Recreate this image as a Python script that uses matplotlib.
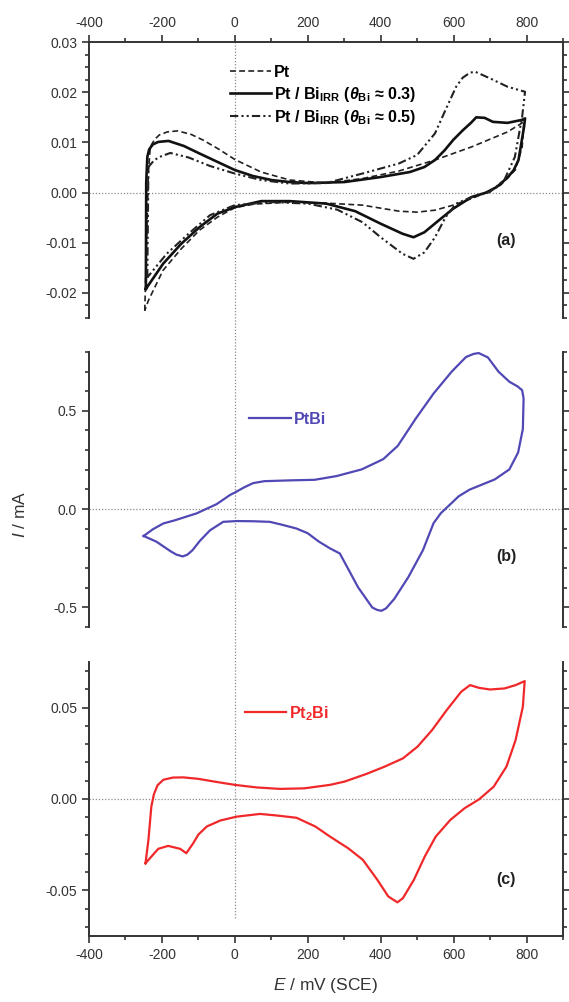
import matplotlib

matplotlib.use("Agg")
import matplotlib.pyplot as plt
import matplotlib.transforms as mtransforms
from matplotlib.lines import Line2D
from matplotlib.ticker import FormatStrFormatter, MultipleLocator

plt.rcParams["font.family"] = ["Liberation Sans", "DejaVu Sans"]
plt.rcParams["axes.unicode_minus"] = False
plt.rcParams["mathtext.fontset"] = "custom"
plt.rcParams["mathtext.rm"] = "Liberation Sans:bold"
plt.rcParams["mathtext.bf"] = "Liberation Sans:bold"
plt.rcParams["mathtext.it"] = "Liberation Sans:italic:bold"
# plain italic (for the axis-label symbols)
plt.rcParams["mathtext.sf"] = "Liberation Sans:italic"

# ---- panel (a): Pt, Pt/Bi_IRR (0.3), Pt/Bi_IRR (0.5) -- E in mV, I in mA
pt_E = [-247, -237, -232, -220, -207, -185, -157, -120, -88, -45, 0, 72, 151, 251, 350,
        450, 549, 649, 748, 793,
        788, 769, 729, 689, 649, 599, 549, 500, 450, 350, 251, 151, 52, 0, -48, -97, -147,
        -197, -237, -247]
pt_I = [-0.0235, 0.004, 0.0091, 0.0106, 0.0115, 0.0121, 0.0123, 0.0116, 0.0105, 0.0087,
        0.0066, 0.0041, 0.0025, 0.0019,
        0.0028, 0.0043, 0.0065, 0.0091, 0.0121, 0.0141,
        0.009, 0.0045, 0.0015, 0.0, -0.0012, -0.0025, -0.0035, -0.0039, -0.0037, -0.0025,
        -0.0021, -0.0019, -0.0023, -0.003, -0.0049, -0.0075, -0.0112, -0.0155, -0.0215, -0.0235]

bi3_E = [-244, -243, -240, -235, -225, -210, -182, -140, -97, -50, 0, 50, 101, 151, 201,
         300, 400, 480, 520, 549, 575, 599, 625, 649, 662, 685, 708, 748, 788, 796,
         793, 785, 778, 765, 748, 718, 689, 649, 599, 560, 520, 490, 460, 400, 330, 251,
         151, 72, 0, -48, -97, -147, -197, -244]
bi3_I = [-0.0192, 0.002, 0.0071, 0.0086, 0.0096, 0.0101, 0.0103, 0.0093, 0.0078, 0.0062,
         0.0045, 0.0033, 0.0025, 0.0021, 0.0019, 0.0021, 0.0031, 0.0041, 0.0051, 0.0065,
         0.0084, 0.0105, 0.0124, 0.0140, 0.0150, 0.0149, 0.0141, 0.0139, 0.0145, 0.0148,
         0.013, 0.0095, 0.0065, 0.0045, 0.003, 0.0011, 0.0, -0.0009, -0.0032, -0.0055,
         -0.0079, -0.0089, -0.0082, -0.0062, -0.0037, -0.0022, -0.0017, -0.0017,
         -0.0029, -0.0042, -0.0069, -0.0102, -0.0142, -0.0192]

bi5_E = [-240, -237, -222, -207, -177, -127, -68, 0, 72, 151, 251, 350, 450, 500, 549, 578,
         607, 625, 645, 659, 699, 748, 796,
         788, 768, 739, 699, 649, 607, 578, 549, 520, 490, 460, 400, 350, 281, 201, 101,
         0, -68, -127, -187, -240]
bi5_I = [-0.0169, 0.0051, 0.0064, 0.0071, 0.0079, 0.007, 0.0053, 0.0038, 0.0025, 0.0018,
         0.0019, 0.0038, 0.0058, 0.0075, 0.0118, 0.0165, 0.0211, 0.0229, 0.0239, 0.0241,
         0.0228, 0.0211, 0.0201,
         0.0151, 0.0071, 0.0025, 0.0001, -0.0009, -0.0022, -0.0049, -0.0089, -0.0119,
         -0.0132, -0.0122, -0.0089, -0.0059, -0.0034, -0.0022, -0.0019,
         -0.0025, -0.0045, -0.0082, -0.0122, -0.0169]

# ---- panel (b): PtBi
ptbi_E = [-250, -225, -196, -166, -105, -50, -13, 0, 25, 50, 81, 150, 219, 279, 348, 407,
          447, 496, 545, 595, 634, 655, 669, 694, 723, 753, 775, 788, 792, 790, 777, 753,
          713, 644, 614, 585, 565, 545, 516, 476, 437, 415, 402, 390, 377, 338, 288, 261,
          230, 200, 169, 130, 96, 50, 5, -32, -68, -95, -116, -130, -143, -160, -176, -215,
          -250]
ptbi_I = [-0.137, -0.103, -0.073, -0.058, -0.022, 0.025, 0.072, 0.084, 0.11, 0.132, 0.142,
          0.146, 0.149, 0.168, 0.202, 0.254, 0.322, 0.46, 0.588, 0.7, 0.774, 0.79, 0.794,
          0.772, 0.7, 0.648, 0.625, 0.605, 0.563, 0.408, 0.288, 0.202, 0.151, 0.099,
          0.065, 0.014, -0.021, -0.072, -0.209, -0.346, -0.458, -0.505, -0.518, -0.513,
          -0.501, -0.398, -0.226, -0.2, -0.165, -0.123, -0.099, -0.08, -0.065, -0.062,
          -0.061, -0.065, -0.108, -0.16, -0.209, -0.232, -0.241, -0.232, -0.215, -0.166,
          -0.137]

# ---- panel (c): Pt2Bi
pt2bi_E = [-245, -237, -229, -222, -212, -196, -170, -141, -100, -50, 0, 60, 124, 190,
           261, 301, 361, 411, 461, 501, 541, 581, 621, 645, 670, 700, 740, 770, 795,
           790, 770, 745, 710, 670, 630, 591, 551, 521, 491, 461, 446, 421, 391, 351, 311,
           261, 221, 169, 112, 69, 5, -40, -77, -100, -114, -133, -150, -183, -210, -245]
pt2bi_I = [-0.0352, -0.0224, -0.0042, 0.0025, 0.0075, 0.0105, 0.0117, 0.0118, 0.011,
           0.0093, 0.0077, 0.0063, 0.0055, 0.0058, 0.0077, 0.0095, 0.0137, 0.0177, 0.0222,
           0.0286, 0.0377, 0.0486, 0.0587, 0.0623, 0.0608, 0.0599, 0.0605, 0.0623, 0.0645,
           0.0505, 0.0322, 0.0177, 0.0067, -0.0002, -0.0051, -0.0115, -0.0206, -0.0315,
           -0.0443, -0.0543, -0.0566, -0.0534, -0.0443, -0.0333, -0.027, -0.0206, -0.0151,
           -0.0103, -0.009, -0.0082, -0.0097, -0.0118, -0.0151, -0.0195, -0.0242, -0.0297,
           -0.0273, -0.0257, -0.0273, -0.0352]

spine_c = "#333333"
zero_c = "#8a8a8a"
blue = "#5048b4"
red = "#f0282a"

fig = plt.figure(figsize=(5.69, 10.02), dpi=100)
ax_a = fig.add_axes([0.1564, 0.6826, 0.833, 0.2754])
ax_b = fig.add_axes([0.1564, 0.3743, 0.833, 0.2745])
ax_c = fig.add_axes([0.1564, 0.0659, 0.833, 0.2735])


def style(ax, show_top, show_bottom, major, minor, fmt):
    ax.set_xlim(-400, 900)
    for side in ("left", "right", "top", "bottom"):
        ax.spines[side].set_color(spine_c)
        ax.spines[side].set_linewidth(1.4)
    ax.spines["top"].set_visible(show_top)
    ax.spines["bottom"].set_visible(show_bottom)
    ax.xaxis.set_major_locator(MultipleLocator(200))
    ax.xaxis.set_minor_locator(MultipleLocator(100))
    ax.yaxis.set_major_locator(MultipleLocator(major))
    ax.yaxis.set_minor_locator(MultipleLocator(minor))
    ax.yaxis.set_major_formatter(FormatStrFormatter(fmt))
    ax.tick_params(which="both", direction="out", colors=spine_c, labelcolor="#333333",
                   labelsize=10, width=1.2)
    ax.tick_params(which="major", length=5)
    ax.tick_params(which="minor", length=3)
    ax.tick_params(axis="y", which="both", left=True, right=True, labelleft=True,
                   labelright=False)
    ax.tick_params(axis="x", which="both", top=show_top, labeltop=show_top,
                   bottom=show_bottom, labelbottom=show_bottom)
    ax.axhline(0, color=zero_c, lw=0.9, ls=(0, (1, 1.5)), zorder=1)
    ax.patch.set_alpha(0)


style(ax_a, True, False, 0.01, 0.0025, "%.2f")
ax_a.set_ylim(-0.025, 0.03)
ax_a.plot(pt_E, pt_I, color="#222222", lw=1.2, ls=(0, (3.5, 2)), label="Pt")
ax_a.plot(bi3_E, bi3_I, color="#111111", lw=1.9, ls="-",
          label=r"Pt / Bi$_{\mathbf{IRR}}$ ($\mathit{θ}_{\mathbf{Bi}}$ ≈ 0.3)")
ax_a.plot(bi5_E, bi5_I, color="#222222", lw=1.5, ls=(0, (4, 1.5, 1, 1.5, 1, 1.5)),
          label=r"Pt / Bi$_{\mathbf{IRR}}$ ($\mathit{θ}_{\mathbf{Bi}}$ ≈ 0.5)")
ax_a.legend(loc="upper left", bbox_to_anchor=(0.283, 0.94), frameon=False,
            prop={"weight": "bold", "size": 11.5}, handlelength=2.6, handletextpad=0.2,
            labelspacing=0.28, borderaxespad=0)
ax_a.text(0.86, 0.28, "(a)", transform=ax_a.transAxes, fontsize=11.5, fontweight="bold",
          color="#222222", ha="left", va="center")

style(ax_b, False, False, 0.5, 0.1, "%.1f")
ax_b.set_ylim(-0.6, 0.8)
ax_b.plot(ptbi_E, ptbi_I, color=blue, lw=1.6, label="PtBi")
ax_b.legend(loc="upper left", bbox_to_anchor=(0.325, 0.805), frameon=False,
            prop={"weight": "bold", "size": 11.5}, handlelength=2.6, handletextpad=0.2,
            labelcolor=blue, borderaxespad=0)
ax_b.text(0.86, 0.255, "(b)", transform=ax_b.transAxes, fontsize=11.5, fontweight="bold",
          color="#222222", ha="left", va="center")

style(ax_c, False, True, 0.05, 0.01, "%.2f")
ax_c.set_ylim(-0.075, 0.075)
ax_c.plot(pt2bi_E, pt2bi_I, color=red, lw=1.6, label=r"Pt$_{\mathbf{2}}$Bi")
ax_c.legend(loc="upper left", bbox_to_anchor=(0.315, 0.87), frameon=False,
            prop={"weight": "bold", "size": 11.5}, handlelength=2.6, handletextpad=0.2,
            labelcolor=red, borderaxespad=0)
ax_c.text(0.86, 0.205, "(c)", transform=ax_c.transAxes, fontsize=11.5, fontweight="bold",
          color="#222222", ha="left", va="center")
ax_c.set_xlabel(r"$\mathsf{E}$ / mV (SCE)", fontsize=12.5, color="#333333", labelpad=10)

# vertical dotted line at E = 0 running through all three panels
trans = mtransforms.blended_transform_factory(ax_c.transData, fig.transFigure)
fig.add_artist(Line2D([0, 0], [0.084, 0.958], transform=trans, color=zero_c, lw=0.9,
                      ls=(0, (1, 1.5)), zorder=0))

fig.text(0.035, 0.487, r"$\mathsf{I}$ / mA", rotation=90, fontsize=12.5, color="#333333",
         ha="center", va="center")

fig.savefig("out.png", dpi=100)
